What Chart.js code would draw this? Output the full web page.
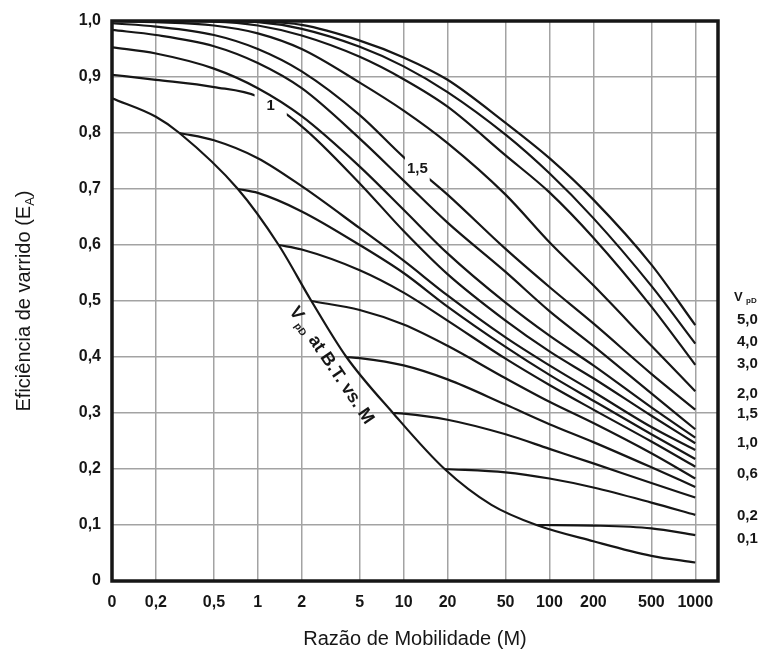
<!DOCTYPE html>
<html>
<head>
<meta charset="utf-8">
<script src="https://cdn.jsdelivr.net/npm/chart.js@4"></script>
<style>
  html, body { margin: 0; padding: 0; background: #fff; }
</style>
</head>
<body>
<canvas id="chart" width="765" height="660"></canvas>
<script>
// mobility ratio grid shared by all curves (0 is drawn at the left edge of the log axis)
const mobility = [0, 0.2, 0.5, 1, 2, 5, 10, 20, 50, 100, 200, 500, 1000];
const mobilityLabels = ['0', '0,2', '0,5', '1', '2', '5', '10', '20', '50', '100', '200', '500', '1000'];
const eaTicks = [0, 0.1, 0.2, 0.3, 0.4, 0.5, 0.6, 0.7, 0.8, 0.9, 1.0];
const eaTickLabels = ['0', '0,1', '0,2', '0,3', '0,4', '0,5', '0,6', '0,7', '0,8', '0,9', '1,0'];

// curves coming in from the left edge / top, highest first
const curve01 = [1.000, 1.000, 1.000, 0.999, 0.993, 0.965, 0.935, 0.895, 0.818, 0.755, 0.681, 0.565, 0.457];
const curve02 = [1.000, 1.000, 1.000, 0.998, 0.986, 0.954, 0.919, 0.873, 0.797, 0.728, 0.648, 0.527, 0.424];
const curve03 = [1.000, 1.000, 0.999, 0.992, 0.974, 0.936, 0.896, 0.847, 0.760, 0.694, 0.613, 0.490, 0.386];
const curve04 = [1.000, 0.998, 0.992, 0.978, 0.950, 0.890, 0.840, 0.782, 0.690, 0.605, 0.528, 0.420, 0.339];
const curve05 = [0.996, 0.990, 0.975, 0.950, 0.910, 0.832, 0.757, 0.690, 0.593, 0.525, 0.460, 0.370, 0.306];
const curve06 = [0.984, 0.975, 0.955, 0.925, 0.880, 0.790, 0.715, 0.640, 0.552, 0.482, 0.420, 0.335, 0.271];
const curve07 = [0.953, 0.942, 0.915, 0.880, 0.830, 0.740, 0.663, 0.585, 0.497, 0.438, 0.385, 0.310, 0.256];
const curve08 = [0.904, 0.895, 0.882, 0.865, 0.812, 0.710, 0.625, 0.548, 0.465, 0.410, 0.362, 0.295, 0.246];

// curves leaving the breakthrough line (null before they start)
const curve09 = [null, null, 0.787, 0.755, 0.705, 0.630, 0.572, 0.510, 0.435, 0.385, 0.338, 0.275, 0.234];
const curve10 = [null, null, null, 0.693, 0.660, 0.600, 0.550, 0.490, 0.418, 0.368, 0.322, 0.262, 0.218];
const curve11 = [null, null, null, null, 0.592, 0.555, 0.515, 0.465, 0.397, 0.350, 0.306, 0.249, 0.204];
const curve12 = [null, null, null, null, null, 0.484, 0.458, 0.420, 0.362, 0.320, 0.282, 0.228, 0.183];
const curve13 = [null, null, null, null, null, 0.398, 0.385, 0.360, 0.315, 0.280, 0.248, 0.203, 0.168];
const curve14 = [null, null, null, null, null, null, 0.299, 0.288, 0.262, 0.236, 0.210, 0.175, 0.149];
const curve15 = [null, null, null, null, null, null, null, null, 0.194, 0.183, 0.167, 0.140, 0.118];
const curve16 = [null, null, null, null, null, null, null, null, null, null, 0.099, 0.094, 0.082];

// Vpd at breakthrough vs M
const btMobility = [0, 0.2, 0.29, 0.73, 1.39, 2.33, 4.05, 8.45, 19.1, 40, 81.5, 200, 500, 1000];
const btEa = [0.862, 0.829, 0.800, 0.700, 0.600, 0.500, 0.400, 0.300, 0.200, 0.136, 0.100, 0.071, 0.045, 0.033];
// index of the breakthrough point each branch starts from
const branchFrom = [2, 3, 4, 5, 6, 7, 8, 10];

// labels written into gaps of two curves
const breakCurve = [7, 4];
const breakFrom = [0.95, 10.2];
const breakTo = [1.58, 15.1];
const breakText = ['1', '1,5'];
const breakEa = [0.848, 0.736];

// Vpd scale at the right-hand side
const vpdLabels = ['5,0', '4,0', '3,0', '2,0', '1,5', '1,0', '0,6', '0,2', '0,1'];
const vpdLabelEa = [0.466, 0.427, 0.387, 0.335, 0.299, 0.247, 0.192, 0.116, 0.076];

const M_ZERO = 0.1;
const M_MAX = 1432;
const FONT = 'Arial, "Liberation Sans", Helvetica, sans-serif';
const INK = '#161616';

const mx = m => (m === 0 ? M_ZERO : m);

function gridPoints(values) {
  const pts = [];
  values.forEach((v, i) => {
    if (v !== null) pts.push({ x: mx(mobility[i]), y: v });
  });
  return pts;
}

const lineStyle = {
  borderColor: INK,
  borderWidth: 2.2,
  pointRadius: 0,
  fill: false,
  cubicInterpolationMode: 'monotone',
};

const datasets = [];
[curve01, curve02, curve03, curve04, curve05, curve06, curve07, curve08].forEach(vals => {
  datasets.push({ ...lineStyle, data: gridPoints(vals) });
});
[curve09, curve10, curve11, curve12, curve13, curve14, curve15, curve16].forEach((vals, k) => {
  const j = branchFrom[k];
  datasets.push({ ...lineStyle, data: [{ x: mx(btMobility[j]), y: btEa[j] }, ...gridPoints(vals)] });
});
datasets.push({ ...lineStyle, data: btMobility.map((m, i) => ({ x: mx(m), y: btEa[i] })) });

// draw text made of normal + subscript pieces, centred on the current origin
function drawPieces(ctx, pieces) {
  let total = 0;
  pieces.forEach(p => { ctx.font = p.font; p.w = ctx.measureText(p.text).width; total += p.w + (p.gap || 0); });
  let cx = -total / 2;
  pieces.forEach(p => {
    ctx.font = p.font;
    ctx.fillText(p.text, cx, p.dy || 0);
    cx += p.w + (p.gap || 0);
  });
}

const decorations = {
  id: 'decorations',
  beforeDatasetDraw(chart, args) {
    const k = breakCurve.indexOf(args.index);
    if (k < 0) return;
    const ctx = chart.ctx;
    const xs = chart.scales.x;
    const x1 = xs.getPixelForValue(breakFrom[k]);
    const x2 = xs.getPixelForValue(breakTo[k]);
    ctx.save();
    ctx.beginPath();
    ctx.rect(0, 0, chart.width, chart.height);
    ctx.rect(x1, 0, x2 - x1, chart.height);
    ctx.clip('evenodd');
  },
  afterDatasetDraw(chart, args) {
    if (breakCurve.indexOf(args.index) >= 0) chart.ctx.restore();
  },
  afterDraw(chart) {
    const { ctx, chartArea: a } = chart;
    const xs = chart.scales.x;
    const ys = chart.scales.y;
    ctx.save();

    // frame
    ctx.strokeStyle = INK;
    ctx.lineWidth = 3.5;
    ctx.strokeRect(a.left, a.top, a.right - a.left, a.bottom - a.top);

    ctx.fillStyle = INK;
    ctx.textBaseline = 'middle';

    // curve labels in the gaps
    ctx.textAlign = 'center';
    ctx.font = 'bold 15px ' + FONT;
    breakText.forEach((t, k) => {
      const px = xs.getPixelForValue(Math.sqrt(breakFrom[k] * breakTo[k]));
      ctx.fillText(t, px, ys.getPixelForValue(breakEa[k]));
    });

    // Vpd scale on the right
    ctx.textAlign = 'left';
    const lx = a.right + 19;
    ctx.font = 'bold 13px ' + FONT;
    ctx.fillText('V', lx - 3, ys.getPixelForValue(0.507));
    ctx.font = 'bold 8px ' + FONT;
    ctx.fillText('pD', lx + 9, ys.getPixelForValue(0.507) + 4);
    ctx.font = 'bold 15px ' + FONT;
    vpdLabels.forEach((t, k) => ctx.fillText(t, lx, ys.getPixelForValue(vpdLabelEa[k])));

    // label along the breakthrough line
    ctx.save();
    ctx.translate(xs.getPixelForValue(3.19), ys.getPixelForValue(0.385));
    ctx.rotate(56 * Math.PI / 180);
    ctx.textAlign = 'left';
    drawPieces(ctx, [
      { text: 'V', font: 'bold 18px ' + FONT, gap: 3 },
      { text: 'pD', font: 'bold 10px ' + FONT, dy: 6, gap: 1 },
      { text: ' at B.T. vs. M', font: 'bold 18px ' + FONT },
    ]);
    ctx.restore();

    // axis titles
    ctx.textAlign = 'center';
    ctx.font = '20px ' + FONT;
    ctx.fillText('Razão de Mobilidade (M)', (a.left + a.right) / 2, 639);

    ctx.save();
    ctx.translate(24, (a.top + a.bottom) / 2);
    ctx.rotate(-Math.PI / 2);
    ctx.textAlign = 'left';
    drawPieces(ctx, [
      { text: 'Eficiência de varrido (E', font: '20px ' + FONT },
      { text: 'A', font: '13px ' + FONT, dy: 6 },
      { text: ')', font: '20px ' + FONT },
    ]);
    ctx.restore();

    ctx.restore();
  },
};

const tickFont = { family: FONT, size: 16, weight: 'bold' };
const gridStyle = { color: '#a3a3a3', lineWidth: 1.5, drawTicks: false };

new Chart(document.getElementById('chart'), {
  type: 'line',
  data: { datasets },
  options: {
    responsive: false,
    animation: false,
    devicePixelRatio: 1,
    layout: { padding: { top: 21, right: 47, left: 0, bottom: 0 } },
    plugins: { legend: { display: false }, tooltip: { enabled: false } },
    scales: {
      x: {
        type: 'logarithmic',
        min: M_ZERO,
        max: M_MAX,
        afterBuildTicks: s => { s.ticks = mobility.map(m => ({ value: mx(m) })); },
        afterFit: s => { s.height = 79; },
        ticks: {
          callback: (v, i) => mobilityLabels[i],
          autoSkip: false,
          maxRotation: 0,
          padding: 12,
          color: INK,
          font: tickFont,
        },
        grid: gridStyle,
        border: { display: false },
      },
      y: {
        type: 'linear',
        min: 0,
        max: 1,
        afterBuildTicks: s => { s.ticks = eaTicks.map(v => ({ value: v })); },
        afterFit: s => { s.width = 112; },
        ticks: {
          callback: (v, i) => eaTickLabels[i],
          padding: 11,
          color: INK,
          font: tickFont,
        },
        grid: gridStyle,
        border: { display: false },
      },
    },
  },
  plugins: [decorations],
});
</script>
</body>
</html>
